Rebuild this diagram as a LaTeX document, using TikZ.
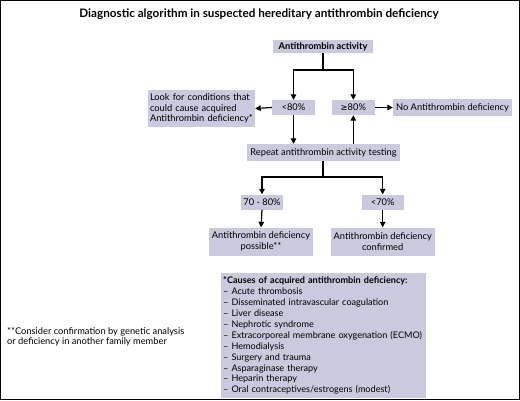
\documentclass[tikz,border=0pt]{standalone}
\usepackage{fontspec}
\setmainfont{Lato}
\newfontfamily\symfont{DejaVu Sans}
\usetikzlibrary{arrows.meta}
\definecolor{boxfill}{RGB}{201,202,222}
\tikzset{
  bx/.style={fill=boxfill, draw=none, inner sep=1pt, font=\fontsize{9.3}{10.8}\selectfont, align=center},
  arr/.style={line width=1.2pt, -{Triangle[length=5.5pt,width=5.5pt]}},
  ln/.style={line width=1.2pt},
}
\begin{document}
\begin{tikzpicture}[x=1pt,y=-1pt]
\useasboundingbox (0,0) rectangle (520,400);
\draw[line width=1.2pt] (0.6,0.6) rectangle (519.4,399.4);
\node[font=\bfseries\fontsize{11.7}{13}\selectfont] (title) at (259,14) {Diagnostic algorithm in suspected hereditary antithrombin deficiency};
\node[bx, font=\bfseries\fontsize{9.3}{10.8}\selectfont, minimum width=100pt, minimum height=13pt] (act) at (323,46.5) {Antithrombin activity};
\node[bx, minimum width=43pt, minimum height=15pt] (lt80) at (293.5,107.5) {<80\%};
\node[bx, minimum width=43pt, minimum height=15pt] (ge80) at (353.3,107.5) {{\symfont\fontsize{8.5}{10}\selectfont ≥}80\%};
\node[bx, align=left, minimum width=107pt, minimum height=37pt, text width=103pt] (look) at (201.5,108.5) {Look for conditions that\\could cause acquired\\Antithrombin deficiency*};
\node[bx, minimum width=119pt, minimum height=17pt] (no) at (452.5,107.5) {No Antithrombin deficiency};
\node[bx, minimum width=153pt, minimum height=17pt] (rep) at (323.5,152.5) {Repeat antithrombin activity testing};
\node[bx, minimum width=42pt, minimum height=15pt] (s7080) at (262,202) {70 - 80\%};
\node[bx, minimum width=42pt, minimum height=15pt] (s70) at (382.7,202) {<70\%};
\node[bx, minimum width=104pt, minimum height=28pt] (poss) at (261,241.5) {Antithrombin deficiency\\possible**};
\node[bx, minimum width=104pt, minimum height=28pt] (conf) at (382.7,241.5) {Antithrombin deficiency\\confirmed};
\node[bx, anchor=north west, align=left, minimum width=205pt, minimum height=125pt, text width=201pt, inner sep=2pt, font=\fontsize{9.1}{10.9}\selectfont] (causes) at (221,273) {\mbox{\textbf{*Causes of acquired antithrombin deficiency:}}\\
\mbox{-- Acute thrombosis}\\
\mbox{-- Disseminated intravascular coagulation}\\
\mbox{-- Liver disease}\\
\mbox{-- Nephrotic syndrome}\\
\mbox{-- Extracorporeal membrane oxygenation (ECMO)}\\
\mbox{-- Hemodialysis}\\
\mbox{-- Surgery and trauma}\\
\mbox{-- Asparaginase therapy}\\
\mbox{-- Heparin therapy}\\
\mbox{-- Oral contraceptives/estrogens (modest)}};
\node[anchor=west, align=left, inner sep=0pt, font=\fontsize{9.3}{10.5}\selectfont] (foot) at (7,337) {**Consider confirmation by genetic analysis\\or deficiency in another family member};
% connectors
\coordinate (j1) at (323,70);
\draw[ln] (act.south) -- (j1);
\draw[arr] (j1) -| (lt80.north);
\draw[arr] (j1) -| (ge80.north);
\draw[arr] (lt80.west) -- (look.east);
\draw[arr] (ge80.east) -- (no.west);
\draw[arr] (lt80.south) -- (lt80.south |- rep.north);
\draw[arr] (ge80.south |- rep.north) -- (ge80.south);
\coordinate (j2) at (323,177);
\draw[ln] (rep.south -| j2) -- (j2);
\draw[arr] (j2) -| (s7080.north);
\draw[arr] (j2) -| (s70.north);
\draw[arr] (s7080.south) -- (poss.north);
\draw[arr] (s70.south) -- (conf.north);
\end{tikzpicture}
\end{document}
